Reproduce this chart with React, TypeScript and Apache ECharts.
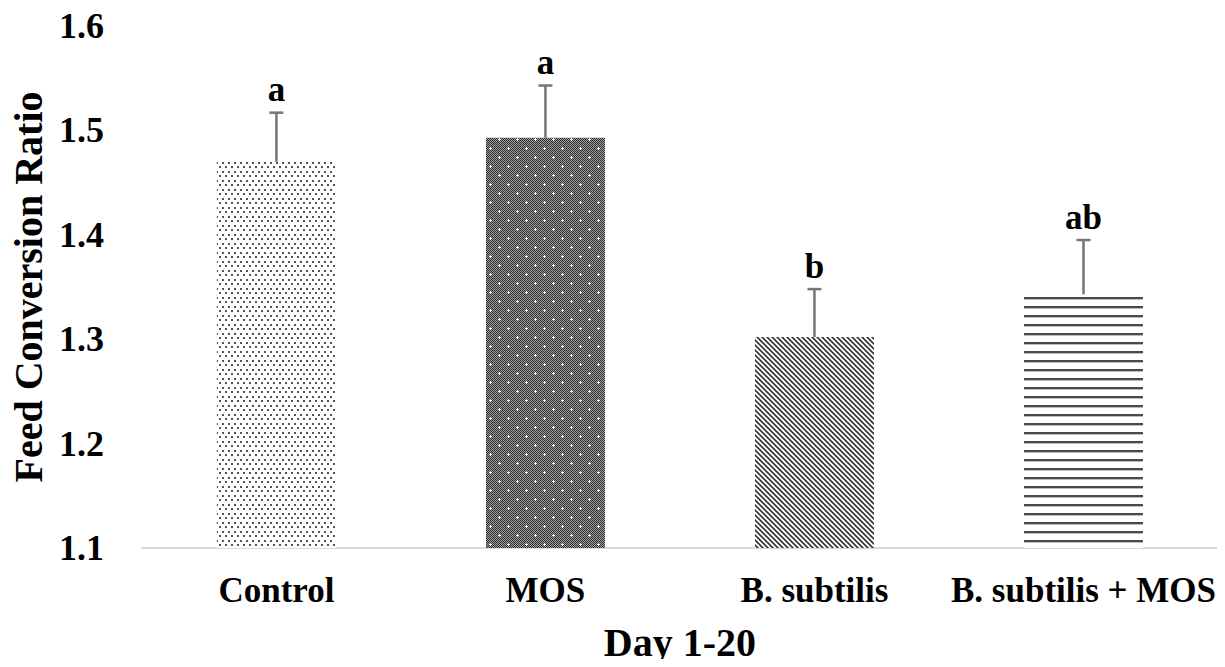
import React, { useEffect, useRef } from "react";
import * as echarts from "echarts";

const categories = ["Control", "MOS", "B. subtilis", "B. subtilis + MOS"];
const fcrValues = [1.47, 1.493, 1.302, 1.343];
const fcrErrors = [0.047, 0.05, 0.046, 0.052];
const sigLetters = ["a", "a", "b", "ab"];
const yMin = 1.1;
const yMax = 1.6;
const yInterval = 0.1;

const FONT = "'Liberation Serif', 'Times New Roman', serif";

function makeCanvas(w: number, h: number, draw: (ctx: CanvasRenderingContext2D) => void) {
  const c = document.createElement("canvas");
  c.width = w;
  c.height = h;
  const ctx = c.getContext("2d") as CanvasRenderingContext2D;
  draw(ctx);
  return { image: c.toDataURL(), imageWidth: w, imageHeight: h, repeat: "repeat" };
}

function dotPattern() {
  return makeCanvas(6, 9, (ctx) => {
    ctx.fillStyle = "#ffffff";
    ctx.fillRect(0, 0, 6, 9);
    ctx.fillStyle = "#555555";
    ctx.fillRect(0, 0, 2, 2);
    ctx.fillRect(3, 4, 2, 2);
  });
}

function darkPattern() {
  return makeCanvas(18, 18, (ctx) => {
    for (let x = 0; x < 18; x++) {
      for (let y = 0; y < 18; y++) {
        ctx.fillStyle = (x + y) % 2 === 0 ? "#2e2e2e" : "#a0a0a0";
        ctx.fillRect(x, y, 1, 1);
      }
    }
    ctx.fillStyle = "#ffffff";
    const plus = (cx: number, cy: number) => {
      ctx.fillRect(cx - 1, cy, 3, 1);
      ctx.fillRect(cx, cy - 1, 1, 3);
    };
    plus(4, 4);
    plus(13, 13);
  });
}

function diagPattern() {
  return makeCanvas(5, 5, (ctx) => {
    ctx.fillStyle = "#ffffff";
    ctx.fillRect(0, 0, 5, 5);
    ctx.strokeStyle = "#333333";
    ctx.lineWidth = 1.6;
    for (const k of [-5, 0, 5]) {
      ctx.beginPath();
      ctx.moveTo(k - 1, -1);
      ctx.lineTo(k + 6, 6);
      ctx.stroke();
    }
  });
}

function hLinePattern() {
  return makeCanvas(4, 9, (ctx) => {
    ctx.fillStyle = "#ffffff";
    ctx.fillRect(0, 0, 4, 9);
    ctx.fillStyle = "#4a4a4a";
    ctx.fillRect(0, 0, 4, 2);
    ctx.fillStyle = "#bdbdbd";
    ctx.fillRect(0, 2, 4, 1);
  });
}

export default function App() {
  const ref = useRef<HTMLDivElement>(null);

  useEffect(() => {
    if (!ref.current) return;
    const chart = echarts.init(ref.current, undefined, { renderer: "svg" });
    const patterns = [dotPattern(), darkPattern(), diagPattern(), hLinePattern()];

    const option: any = {
      animation: false,
      backgroundColor: "#ffffff",
      grid: { left: 138, right: 7, top: 26, bottom: 114 },
      xAxis: {
        type: "category",
        data: categories,
        axisTick: { show: false },
        axisLine: { lineStyle: { color: "#d9d9d9", width: 2 } },
        axisLabel: {
          color: "#000",
          fontFamily: FONT,
          fontWeight: "bold",
          fontSize: 35,
          margin: 25,
          interval: 0,
        },
        name: "Day 1-20",
        nameLocation: "middle",
        nameGap: 74,
        nameTextStyle: { color: "#000", fontFamily: FONT, fontWeight: "bold", fontSize: 40 },
      },
      yAxis: {
        type: "value",
        min: yMin,
        max: yMax,
        interval: yInterval,
        splitLine: { show: false },
        axisLine: { show: false },
        axisTick: { show: false },
        axisLabel: {
          color: "#000",
          fontFamily: FONT,
          fontWeight: "bold",
          fontSize: 36,
          margin: 38,
          formatter: (v: number) => v.toFixed(1),
        },
        name: "Feed Conversion Ratio",
        nameLocation: "middle",
        nameRotate: 90,
        nameGap: 91,
        nameTextStyle: { color: "#000", fontFamily: FONT, fontWeight: "bold", fontSize: 40 },
      },
      series: [
        {
          type: "bar",
          barWidth: 119,
          clip: true,
          data: fcrValues.map((v, i) => ({ value: v, itemStyle: { color: patterns[i] } })),
        },
        {
          type: "custom",
          z: 5,
          data: fcrValues.map((v, i) => [i, v, fcrErrors[i]]),
          renderItem: (params: any, api: any) => {
            const idx = api.value(0);
            const val = api.value(1);
            const err = api.value(2);
            const base = api.coord([idx, val]);
            const top = api.coord([idx, val + err]);
            const style = { stroke: "#767676", lineWidth: 2.5 };
            return {
              type: "group",
              children: [
                { type: "line", shape: { x1: base[0], y1: base[1], x2: top[0], y2: top[1] }, style },
                { type: "line", shape: { x1: top[0] - 7, y1: top[1], x2: top[0] + 7, y2: top[1] }, style },
                {
                  type: "text",
                  x: top[0],
                  y: top[1] - 23,
                  style: {
                    text: sigLetters[params.dataIndex],
                    fill: "#000",
                    font: `bold 35px ${FONT}`,
                    align: "center",
                    verticalAlign: "middle",
                  },
                },
              ],
            };
          },
        },
      ],
    };
    chart.setOption(option);
    return () => chart.dispose();
  }, []);

  return <div ref={ref} style={{ width: 1225, height: 667, margin: -8 }} />;
}
